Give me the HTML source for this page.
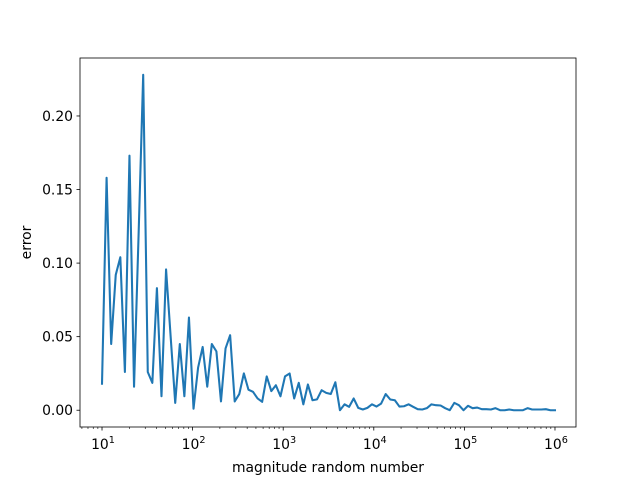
<!DOCTYPE html>
<html><head><meta charset="utf-8"><style>
body{margin:0;background:#fff}
svg text{font-family:"DejaVu Sans","Liberation Sans",sans-serif;font-size:13.9px;fill:#000}
</style></head><body>
<svg id="chart" width="640" height="480" xmlns="http://www.w3.org/2000/svg">
<rect x="0" y="0" width="640" height="480" fill="#fff"/>
<g id="ticks"></g>
<path id="line" fill="none" stroke="#1f77b4" stroke-width="2.08" stroke-linejoin="round" stroke-linecap="square"/>
<rect x="80" y="58" width="496" height="369" fill="none" stroke="#000" stroke-width="0.8"/>
<text x="328" y="472" text-anchor="middle">magnitude random number</text>
<text transform="translate(31,242.5) rotate(-90)" text-anchor="middle">error</text>
</svg>
<script>
const errors=[0.018,0.158,0.045,0.092,0.104,0.026,0.173,0.016,0.12,0.228,
0.026,0.0186,0.083,0.0095,0.0957,0.050,0.005,0.045,0.0095,0.063,
0.001,0.029,0.043,0.016,0.045,0.040,0.006,0.042,0.051,0.006,
0.011,0.025,0.014,0.0125,0.008,0.0057,0.023,0.013,0.017,0.0095,
0.023,0.025,0.008,0.0186,0.004,0.0175,0.0068,0.0074,0.0136,0.0118,
0.011,0.019,0.0,0.004,0.0023,0.008,0.0016,0.0005,0.0016,0.004,
0.0025,0.0045,0.011,0.0073,0.0068,0.0025,0.0027,0.004,0.0023,0.0007,
0.0005,0.0014,0.004,0.0034,0.0032,0.0014,0.0,0.005,0.0034,0.0,
0.003,0.0014,0.0018,0.0007,0.0007,0.0005,0.0014,0.0,0.0,0.0005,
0.0,0.0,0.0,0.0014,0.0005,0.0005,0.0005,0.0007,0.0,0.0];
const xExpStart=1, xExpEnd=6;
const yTicks=[0,0.05,0.10,0.15,0.20];
const yTickLabels=["0.00","0.05","0.10","0.15","0.20"];
const xDecades=[1,2,3,4,5,6];
const L=80,R=576,T=58,B=427;
const xmin=0.757,xmax=6.232,ymin=-0.0114,ymax=0.2394;
const X=e=>L+(e-xmin)/(xmax-xmin)*(R-L);
const Y=v=>B-(v-ymin)/(ymax-ymin)*(B-T);
const NS="http://www.w3.org/2000/svg";
const g=document.getElementById('ticks');
function mk(t,a){const el=document.createElementNS(NS,t);for(const k in a)el.setAttribute(k,a[k]);return el;}
const n=errors.length;
let d="";
errors.forEach((v,i)=>{const e=xExpStart+(xExpEnd-xExpStart)*i/(n-1);d+=(i?"L":"M")+X(e).toFixed(2)+","+Y(v).toFixed(2);});
document.getElementById('line').setAttribute('d',d);
yTicks.forEach((v,i)=>{
 const l=mk('line',{x1:L-3.5,x2:L,y1:Y(v),y2:Y(v),stroke:'#000','stroke-width':0.8});
 
 
 g.appendChild(l);
 const t=mk('text',{x:L-7,y:Y(v)+5,'text-anchor':'end'});
 
 
 t.textContent=yTickLabels[i];g.appendChild(t);
});
for(let dec=0;dec<=6;dec++){for(let m=2;m<=9;m++){const e=dec+Math.log10(m);if(e<xmin||e>xmax)continue;
 const l=mk('line',{x1:X(e),x2:X(e),y1:B,y2:B+2,stroke:'#000','stroke-width':0.6});
 
 
 g.appendChild(l);}}
xDecades.forEach(e=>{
 const l=mk('line',{x1:X(e),x2:X(e),y1:B,y2:B+3.5,stroke:'#000','stroke-width':0.8});
 
 
 g.appendChild(l);
 const t=mk('text',{x:X(e)+1,y:B+22,'text-anchor':'middle'});
 
 
 t.innerHTML='10<tspan dy="-6" font-size="9.7px">'+e+'</tspan>';g.appendChild(t);
});
</script>
</body></html>
